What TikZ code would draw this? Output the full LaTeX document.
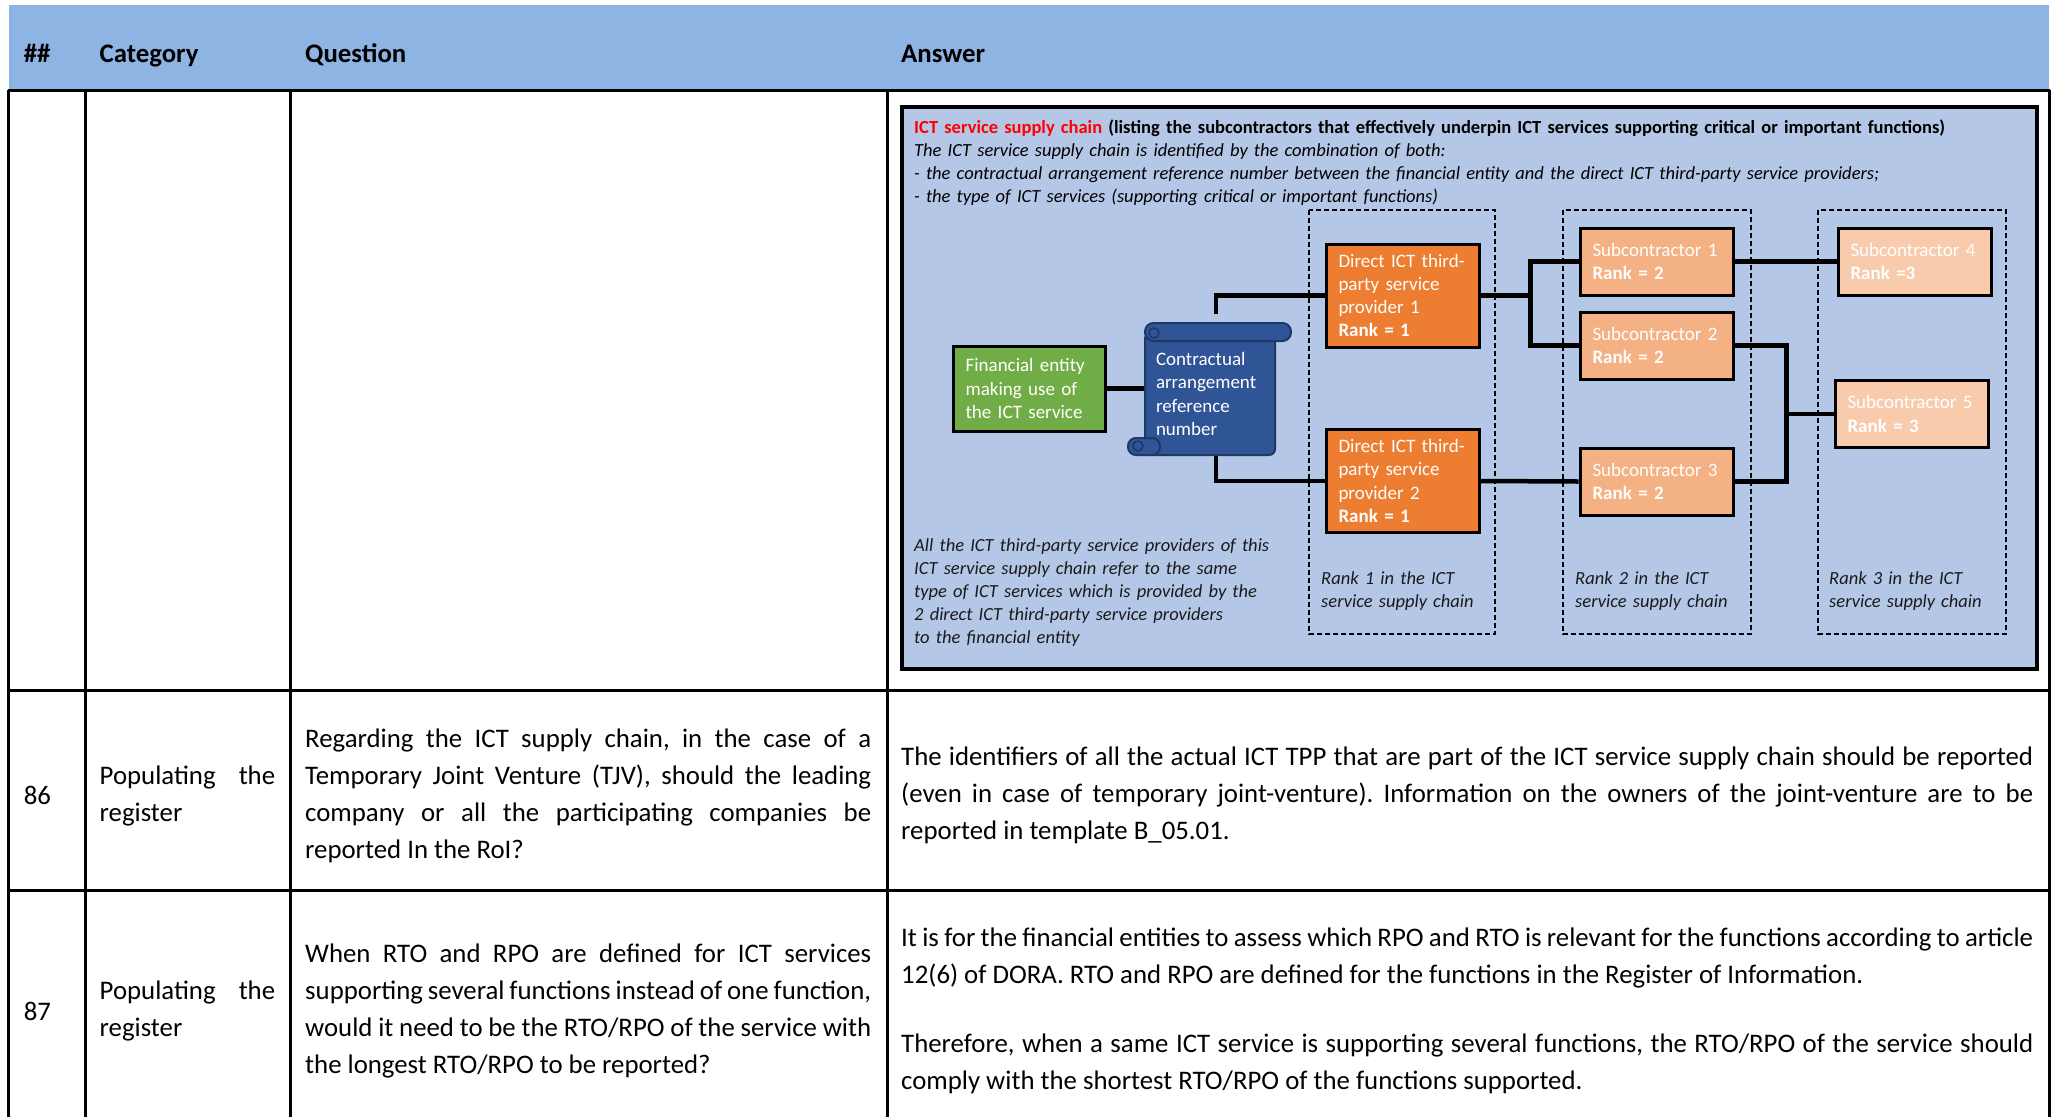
\documentclass[tikz,border=0pt]{standalone}
\usepackage{fontspec}
\setmainfont{Carlito}
\usepackage{tikz}
\usetikzlibrary{positioning}
\definecolor{headblue}{HTML}{8DB4E2}
\definecolor{panelblue}{HTML}{B4C7E7}
\definecolor{entitygreen}{HTML}{70AD47}
\definecolor{tpporange}{HTML}{ED7D31}
\definecolor{suborange}{HTML}{F4B183}
\definecolor{sublight}{HTML}{F8CBAD}
\definecolor{scrollblue}{HTML}{2F5597}
\definecolor{scrolledge}{HTML}{1F3864}
\definecolor{chainred}{HTML}{FF0000}
\definecolor{notegray}{HTML}{1A1A1A}
\hyphenpenalty=10000
\exhyphenpenalty=10000
\frenchspacing
\newcommand\cellspacing{\spaceskip=0.226em plus 0.2em minus 0.06em\relax}

\begin{document}
\begin{tikzpicture}
      [x=1pt,y=-1pt,
       rule/.style={line width=3pt},
       headtext/.style={anchor=base west,inner sep=0pt,font=\fontsize{26.8}{32}\selectfont\bfseries},
       celltext/.style={anchor=base west,inner sep=0pt,align=justify,
         font=\fontsize{26.8}{37.3}\selectfont,execute at begin node=\cellspacing},
       note/.style={anchor=base west,inner sep=0pt,align=left,text=notegray,font=\fontsize{18.5}{23}\selectfont\itshape},
       party/.style={rectangle,draw=black,line width=3pt,text=white,align=left,inner xsep=12pt,inner ysep=0pt,text width=128,font=\fontsize{19}{23.3}\selectfont},
       tpp/.style={party,fill=tpporange,minimum width=153,minimum height=103},
       sub/.style={party,fill=suborange,minimum width=153,minimum height=67},
       subfar/.style={sub,fill=sublight},
       rankframe/.style={draw=black,line width=2pt,dash pattern=on 5pt off 3pt},
       scrollpart/.style={fill=scrollblue,draw=scrolledge,line width=2pt},
       link/.style={draw=black,line width=4.5pt}]
      \useasboundingbox (0,0) rectangle (2053,1117);
      % table frame
      \fill[headblue] (9,5) rectangle (2049,89);
      \draw[rule] (8,90) -- (2050,90);
      \draw[rule] (8,690) -- (2050,690);
      \draw[rule] (8,890) -- (2050,890);
      \draw[rule] (8,90) -- (8,1117);
      \draw[rule] (85,90) -- (85,1117);
      \draw[rule] (290,90) -- (290,1117);
      \draw[rule] (887,90) -- (887,1117);
      \draw[rule] (2049,90) -- (2049,1117);
      % header
      \node[headtext] (hnum) at (23.6,62) {\#\#};
      \node[headtext] (hcat) at (99.5,62) {Category};
      \node[headtext] (hques) at (305,62) {Question};
      \node[headtext] (hans) at (901,62) {Answer};
      % supply chain panel
      \draw[fill=panelblue,draw=black,line width=3.5pt] (902,107) rectangle (2037,669);
      \node[note,text=black,text width=1110,font=\fontsize{18.5}{23}\selectfont] (chaintitle) at (914,133)
        {\textbf{\textcolor{chainred}{ICT service supply chain} (listing the subcontractors that effectively underpin ICT services supporting critical or important functions)}\\
         \textit{The ICT service supply chain is identified by the combination of both:}\\
         \textit{- the contractual arrangement reference number between the financial entity and the direct ICT third-party service providers;}\\
         \textit{- the type of ICT services (supporting critical or important functions)}};
      \draw[rankframe] (1309,210) rectangle (1495,634);
      \draw[rankframe] (1563,210) rectangle (1751,634);
      \draw[rankframe] (1818,210) rectangle (2006,634);
      \node[note,text width=170] (rank1) at (1321,584) {Rank 1 in the ICT\\service supply chain};
      \node[note,text width=170] (rank2) at (1575,584) {Rank 2 in the ICT\\service supply chain};
      \node[note,text width=170] (rank3) at (1829,584) {Rank 3 in the ICT\\service supply chain};
      \node[note,text width=380] (samenote) at (914,551)
        {All the ICT third-party service providers of this\\ICT service supply chain refer to the same\\type of ICT services which is provided by the\\2 direct ICT third-party service providers\\to the financial entity};
      % place nodes
      \node[party,fill=entitygreen,minimum width=152,minimum height=85] (fin) at (1029.6,388.5)
        {Financial entity\\making use of\\the ICT service};
      \node[party,fill=scrollblue,draw=scrolledge,line width=2pt,rounded corners=6pt,
            text width=108,inner xsep=11pt,minimum width=130,minimum height=122] (contract) at (1210,394)
        {Contractual\\arrangement\\reference\\number};
      \draw[scrollpart,rounded corners=8.5pt] (1145,323) rectangle (1291,341);
      \draw[scrolledge,line width=1.5pt,fill=scrollblue] (1154,333) circle (5);
      \draw[scrollpart,rounded corners=8pt] (1128,438) rectangle (1160,455);
      \draw[scrolledge,line width=1.5pt,fill=scrollblue] (1138,446) circle (5);
      \node[tpp] (dtpp1) at (1402.5,295.5) {Direct ICT third-\\party service\\provider 1\\\textbf{Rank = 1}};
      \node[tpp] (dtpp2) at (1402.5,481) {Direct ICT third-\\party service\\provider 2\\\textbf{Rank = 1}};
      \node[sub] (sub1) at (1656.5,261.5) {Subcontractor 1\\\textbf{Rank = 2}};
      \node[sub] (sub2) at (1656.5,345.5) {Subcontractor 2\\\textbf{Rank = 2}};
      \node[sub] (sub3) at (1656.5,481.5) {Subcontractor 3\\\textbf{Rank = 2}};
      \node[subfar] (sub4) [right=102 of sub1] {Subcontractor 4\\\textbf{Rank =3}};
      \node[subfar] (sub5) at (1911.5,414) {Subcontractor 5\\\textbf{Rank = 3}};
      % add edges
      \draw[link] (fin.east) -- (fin.east -| contract.west);
      \draw[link] ([xshift=6pt,yshift=18pt]contract.north) |- (dtpp1.west);
      \draw[link] ([xshift=6pt]contract.south) |- (dtpp2.west);
      \draw[link] (dtpp1.east) -- ++(50,0) coordinate (fork1);
      \draw[link] (sub1.west) -| (fork1) |- (sub2.west);
      \draw[link] (sub1.east) -- (sub4.west);
      \draw[link] (dtpp2.east) -- (sub3.west);
      \draw[link] (sub2.east) -- ++(52,0) coordinate (fork2) |- (sub3.east);
      \draw[link] (fork2 |- sub5.west) -- (sub5.west);
      % question rows
      \node[celltext] (num86) at (23.6,804) {86};
      \node[celltext,text width=175.5] (cat86) at (99.5,784) {Populating the\linebreak register};
      \node[celltext,text width=566] (ques86) at (305,747)
        {Regarding the ICT supply chain, in the case of a\linebreak
         Temporary Joint Venture (TJV), should the leading\linebreak
         company or all the participating companies be\linebreak
         reported In the RoI?};
      \node[celltext,text width=1132] (ans86) at (901,765)
        {The identifiers of all the actual ICT TPP that are part of the ICT service supply chain should be reported\linebreak
         (even in case of temporary joint-venture). Information on the owners of the joint-venture are to be\linebreak
         reported in template B\_05.01.};
      \node[celltext] (num87) at (23.6,1020) {87};
      \node[celltext,text width=175.5] (cat87) at (99.5,999) {Populating the\linebreak register};
      \node[celltext,text width=566] (ques87) at (305,962)
        {When RTO and RPO are defined for ICT services\linebreak
         supporting several functions instead of one function,\linebreak
         would it need to be the RTO/RPO of the service with\linebreak
         the longest RTO/RPO to be reported?};
      \node[celltext,text width=1132] (ans87a) at (901,946)
        {It is for the financial entities to assess which RPO and RTO is relevant for the functions according to article\linebreak
         12(6) of DORA. RTO and RPO are defined for the functions in the Register of Information.};
      \node[celltext,text width=1132] (ans87b) at (901,1052)
        {Therefore, when a same ICT service is supporting several functions, the RTO/RPO of the service should\linebreak
         comply with the shortest RTO/RPO of the functions supported.};
    \end{tikzpicture}
\end{document}
